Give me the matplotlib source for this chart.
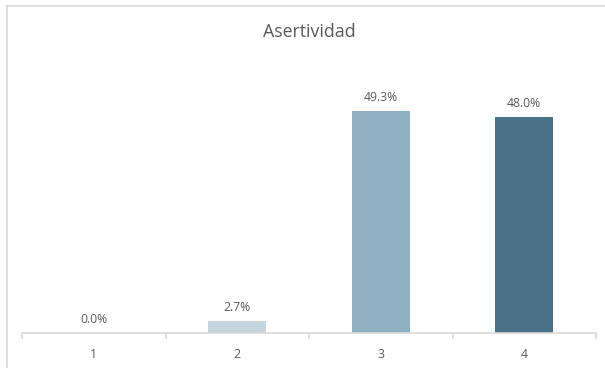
import matplotlib.pyplot as plt

categories = ["1", "2", "3", "4"]
values = [0.0, 2.7, 49.3, 48.0]
colors = ["#c5d6e0", "#c5d6e0", "#8fafc2", "#4a7187"]
title = "Asertividad"

W, H = 605, 368
fig = plt.figure(figsize=(W / 100, H / 100), dpi=100)
plt.rcParams['font.family'] = ['Open Sans', 'DejaVu Sans']

# outer chart frame (left and top edges visible)
fig.add_artist(plt.Line2D([6.5 / W, 6.5 / W], [0, 1 - 5.5 / H], color="#d9d9d9", lw=1.2))
fig.add_artist(plt.Line2D([6.5 / W, 1], [1 - 5.5 / H, 1 - 5.5 / H], color="#d9d9d9", lw=1.2))

x0, x1 = 22, 596
y_base, ymax = 333, 60.0
px_per = 222 / 49.3
y_top = y_base - ymax * px_per
ax = fig.add_axes([x0 / W, 1 - y_base / H, (x1 - x0) / W, (y_base - y_top) / H])

xs = range(len(categories))
bars = ax.bar(xs, values, width=0.405, color=colors)
ax.set_xlim(-0.5, len(categories) - 0.5)
ax.set_ylim(0, ymax)

for x, v in zip(xs, values):
    ax.text(x, v + 1.5, f"{v:.1f}%", ha="center", va="bottom", fontsize=8.8, color="#595959")

for s in ["top", "right", "left"]:
    ax.spines[s].set_visible(False)
ax.spines["bottom"].set_color("#d9d9d9")
ax.spines["bottom"].set_linewidth(1.2)
ax.set_yticks([])
ax.set_xticks(xs)
ax.set_xticklabels(categories, fontsize=8.8, color="#595959")
ax.set_xticks([i - 0.5 for i in range(len(categories) + 1)], minor=True)
ax.tick_params(axis="x", which="major", length=0, pad=10.5)
ax.tick_params(axis="x", which="minor", length=4, color="#d9d9d9", width=1.2)

fig.text((x0 + x1) / 2 / W, 1 - 32 / H, title, ha="center", va="center", fontsize=12.8, color="#595959")

fig.savefig("out.png", dpi=100, facecolor="white")
